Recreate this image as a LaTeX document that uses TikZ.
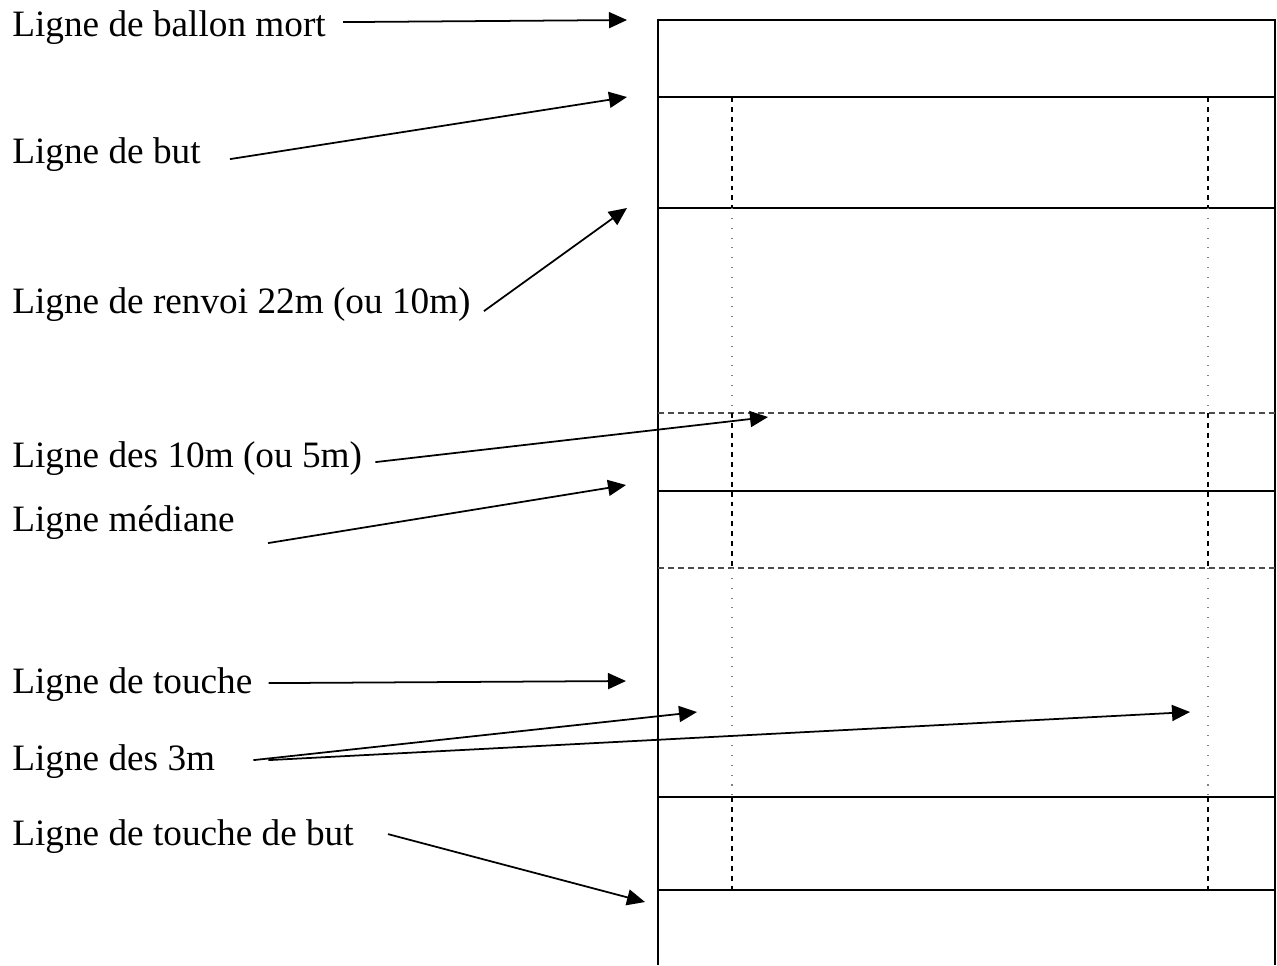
\documentclass[tikz,border=0pt]{standalone}
\usepackage{fontspec}
\setmainfont{Liberation Serif}
\usetikzlibrary{arrows.meta}

\begin{document}
\begin{tikzpicture}[x=0.02cm, y=-0.02cm,
    linetext/.style={anchor=base west, inner sep=0pt, font=\fontsize{21.2}{25}\selectfont},
    pointer/.style={-{Triangle[length=0.36cm,width=0.32cm]}, line width=1pt},
    field/.style={line width=1.4pt},
    inzone/.style={line width=0.9pt, dash pattern=on 2.8pt off 2.8pt},
    outzone/.style={line width=0.9pt, gray, dash pattern=on 0.6pt off 5pt},
    halfway/.style={line width=0.9pt, gray!60!black, dash pattern=on 3.4pt off 2.3pt}]
    \useasboundingbox (0,0) rectangle (1277,965);

    % terrain
    \draw[field] (658,965) -- (658,20) -- (1275,20) -- (1275,965);
    \foreach \y in {97,208,491,797,890}
        \draw[field] (658,\y) -- (1275,\y);
    \foreach \y in {413,568}
        \draw[halfway] (658,\y) -- (1275,\y);
    \foreach \x in {732,1208} {
        \draw[inzone] (\x,97) -- (\x,208);
        \draw[outzone] (\x,208) -- (\x,413);
        \draw[inzone] (\x,413) -- (\x,568);
        \draw[outzone] (\x,568) -- (\x,797);
        \draw[inzone] (\x,797) -- (\x,890);
    }

    % pointes des fleches
    \coordinate (ballonTip) at (627,20);
    \coordinate (butTip) at (627,97);
    \coordinate (renvoiTip) at (627,208);
    \coordinate (dixTip) at (768,417);
    \coordinate (medianeTip) at (626,485);
    \coordinate (toucheTip) at (626,681);
    \coordinate (troisTipA) at (697,712);
    \coordinate (troisTipB) at (1190,712);
    \coordinate (touchebutTip) at (645,902);

    % legendes
    \node[linetext] (ballon) at (12,36) {Ligne de ballon mort};
    \node[linetext] (butl) at (12,163) {Ligne de but};
    \node[linetext] (renvoi) at (12,313) {Ligne de renvoi 22m (ou 10m)};
    \node[linetext] (dix) at (12,467) {Ligne des 10m (ou 5m)};
    \node[linetext] (mediane) at (12,531) {Ligne médiane};
    \node[linetext] (touche) at (12,693) {Ligne de touche};
    \node[linetext] (trois) at (12,770) {Ligne des 3m};
    \node[linetext] (touchebut) at (12,845) {Ligne de touche de but};

    \draw[pointer] ([shift={(17,-5)}]ballon.east) -- (ballonTip);
    \draw[pointer] ([shift={(29,5)}]butl.east) -- (butTip);
    \draw[pointer] ([shift={(13,7)}]renvoi.east) -- (renvoiTip);
    \draw[pointer] ([shift={(13,4)}]dix.east) -- (dixTip);
    \draw[pointer] ([shift={(33,21)}]mediane.east) -- (medianeTip);
    \draw[pointer] ([shift={(16,-1)}]touche.east) -- (toucheTip);
    \draw[pointer] ([shift={(38,-1)}]trois.east) -- (troisTipA);
    \draw[pointer] ([shift={(53,-1)}]trois.east) -- (troisTipB);
    \draw[pointer] ([shift={(34,-2)}]touchebut.east) -- (touchebutTip);
\end{tikzpicture}
\end{document}
